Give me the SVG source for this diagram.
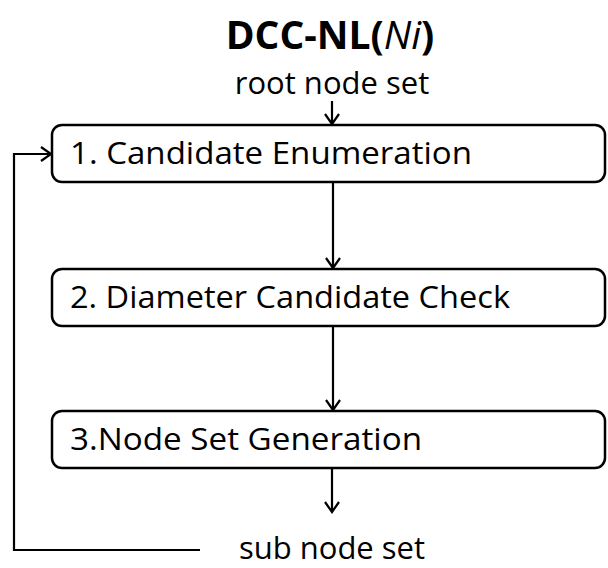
<svg xmlns="http://www.w3.org/2000/svg" width="608" height="568" viewBox="0 0 608 568">
  <style>
    .box { fill: #ffffff; stroke: #000000; stroke-width: 2.5; }
    .lbl { font-family: "Open Sans", "Liberation Sans", sans-serif; font-size: 31px; fill: #000000; }
    .edge { fill: none; stroke: #000000; stroke-width: 2.2; }
    .title { font-family: "Open Sans", "Liberation Sans", sans-serif; font-size: 39px; font-weight: bold; fill: #000000; }
  </style>
  <defs>
    <marker id="arrow" markerWidth="16" markerHeight="18" refX="12" refY="9" orient="auto" markerUnits="userSpaceOnUse">
      <path d="M2,2 L12,9 L2,16" fill="none" stroke="#000000" stroke-width="2.2"/>
    </marker>
  </defs>
  <rect width="608" height="568" fill="#ffffff"/>

  <text class="title" x="330" y="49" text-anchor="middle">DCC-NL(<tspan font-style="italic" font-weight="normal">Ni</tspan>)</text>
  <text class="lbl" x="332" y="94" text-anchor="middle">root node set</text>
  <text class="lbl" x="332" y="559" text-anchor="middle">sub node set</text>

  <g id="connectors">
    <line class="edge" x1="332" y1="101" x2="332" y2="124" marker-end="url(#arrow)"/>
    <line class="edge" x1="333" y1="183" x2="333" y2="268" marker-end="url(#arrow)"/>
    <line class="edge" x1="333" y1="327" x2="333" y2="410" marker-end="url(#arrow)"/>
    <line class="edge" x1="332" y1="469" x2="332" y2="512" marker-end="url(#arrow)"/>
    <polyline class="edge" points="200,550 14,550 14,154 51,154" marker-end="url(#arrow)"/>
  </g>

  <g id="node1">
    <rect class="box" x="52" y="125" width="553" height="57" rx="10"/>
    <text class="lbl" x="70" y="164" textLength="402" lengthAdjust="spacingAndGlyphs">1. Candidate Enumeration</text>
  </g>
  <g id="node2">
    <rect class="box" x="52" y="269" width="553" height="57" rx="10"/>
    <text class="lbl" x="70" y="308" textLength="440" lengthAdjust="spacingAndGlyphs">2. Diameter Candidate Check</text>
  </g>
  <g id="node3">
    <rect class="box" x="52" y="411" width="553" height="57" rx="10"/>
    <text class="lbl" x="70" y="450" textLength="352" lengthAdjust="spacingAndGlyphs">3.Node Set Generation</text>
  </g>
</svg>
